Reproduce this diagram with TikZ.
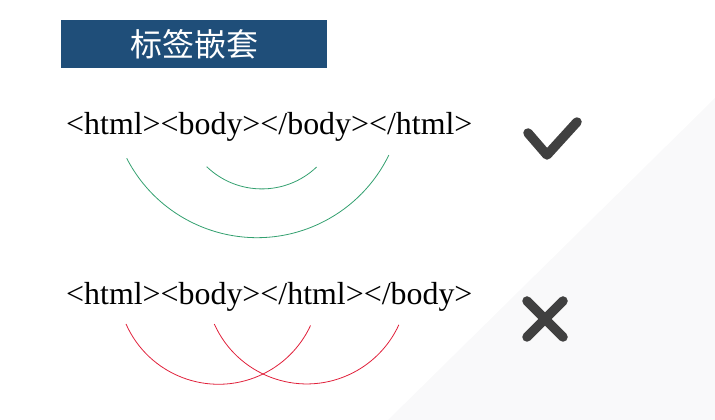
\documentclass[tikz,border=0pt]{standalone}
\usepackage{fontspec}
\setmainfont{Liberation Serif}
\newfontfamily\cjkfont{Noto Sans CJK SC}
\usetikzlibrary{calc}
\definecolor{titleblue}{RGB}{31,78,121}
\definecolor{nestgreen}{RGB}{51,160,111}
\definecolor{crossred}{RGB}{224,32,58}
\definecolor{markgray}{RGB}{64,64,64}
\definecolor{shadegray}{RGB}{249,249,250}

\begin{document}
\begin{tikzpicture}[x=1pt, y=1pt,
		tagline/.style={anchor=base west, inner sep=0pt, font=\fontsize{31.9}{36}\selectfont},
		goodarc/.style={line width=0.8pt, color=nestgreen},
		badarc/.style={line width=0.8pt, color=crossred},
		signline/.style={line width=9.5pt, color=markgray, line cap=round, line join=round}]
			%%%%% START %%%%%
			
			\useasboundingbox (0, 0) rectangle (715, 420);
			\fill[shadegray] (388, 0) -- (715, 322) -- (715, 0) -- cycle;
			
			\node[fill=titleblue, minimum width=266pt, minimum height=48pt, inner sep=0pt, text=white, font=\cjkfont\fontsize{32}{34}\selectfont] (title) at (194, 376) {标签嵌套};
			
			\node[tagline] (rightnest) at (66, 285) {<html><body></body></html>};
			\node[tagline] (wrongnest) at (66, 115) {<html><body></html></body>};
			
			\coordinate (htmlopen) at (126.7, 261.7);
			\coordinate (bodyopen) at (206.7, 253.3);
			\draw[goodarc] (htmlopen) arc[start angle=207.3, end angle=334.1, radius=146.6];
			\draw[goodarc] (bodyopen) arc[start angle=226.1, end angle=313.6, radius=79.5];
			
			\coordinate (htmlopenx) at (126, 96);
			\coordinate (bodyopenx) at (214.3, 96);
			\draw[badarc] (htmlopenx) arc[start angle=203.9, end angle=335.2, radius=101.3];
			\draw[badarc] (bodyopenx) arc[start angle=204.1, end angle=335.4, radius=101.3];
			
			\draw[signline] (528, 287) -- (547, 265) -- (577, 298);
			
			\draw[signline] (527, 119) -- (563, 83);
			\draw[signline] (527, 83) -- (563, 119);
			
			%%%%% END %%%%%
		\end{tikzpicture}
\end{document}
